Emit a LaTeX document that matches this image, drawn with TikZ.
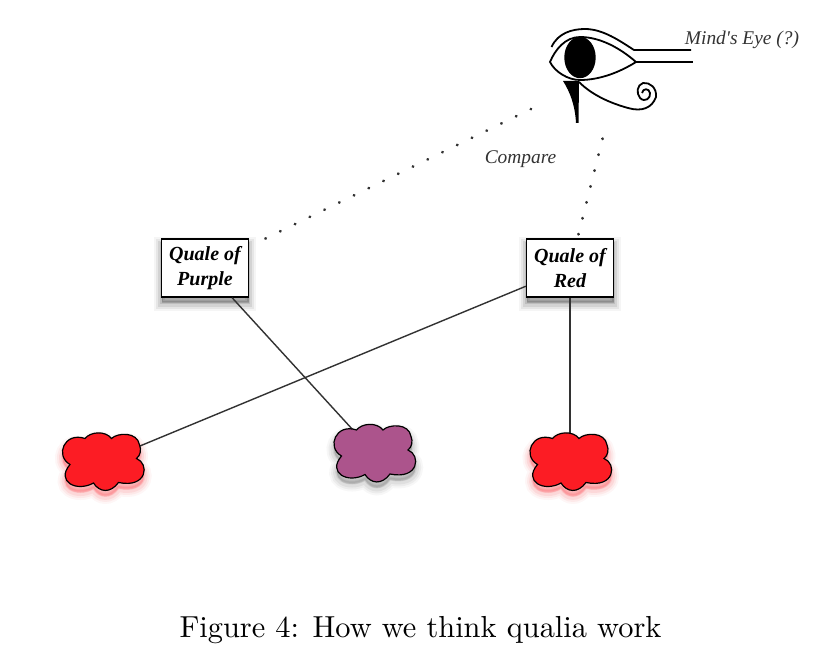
\documentclass[tikz,border=0pt]{standalone}
\usepackage{fontspec}
\newfontfamily\figfont{Liberation Serif}
\definecolor{qualered}{RGB}{252,28,36}
\definecolor{qualepurple}{RGB}{172,84,140}
\definecolor{linegray}{RGB}{50,50,50}
\usetikzlibrary{positioning}
\newcommand{\cloudoutline}{(-17.5,-23) .. controls (-12,-30) and (3,-31) .. (9,-23)
  .. controls (15,-29) and (35,-30) .. (37,-16.5) .. controls (39,-12) and (38,-6) .. (34,-3)
  .. controls (47,2) and (45,27) .. (16,21) .. controls (8,32) and (-3,31) .. (-9,21.5)
  .. controls (-26,31) and (-47,20) .. (-32.5,3) .. controls (-48,-6) and (-38,-30) .. (-17.5,-23) -- cycle}
\begin{document}
\begin{tikzpicture}[x=1pt,y=-1pt,
  softshadow/.style={
    preaction={draw=#1,fill=#1,opacity=.04,line width=15pt,transform canvas={yshift=-6pt}},
    preaction={draw=#1,fill=#1,opacity=.06,line width=11pt,transform canvas={yshift=-6pt}},
    preaction={draw=#1,fill=#1,opacity=.08,line width=7pt,transform canvas={yshift=-6pt}},
    preaction={draw=#1,fill=#1,opacity=.10,line width=3pt,transform canvas={yshift=-5pt}}},
  quale/.style={softshadow=black,draw=black,fill=white,line width=1.5pt,minimum width=87pt,minimum height=58pt,inner sep=0pt,align=center,font=\figfont\bfseries\itshape\fontsize{20}{25}\selectfont},
  cloudspot/.style={inner sep=0pt,minimum size=1pt},
  qualecloud/.pic={\path[softshadow=#1] \cloudoutline;},
  cloudskin/.pic={\filldraw[draw=black,line width=1.2pt,fill=#1] \cloudoutline;},
  link/.style={draw=linegray,line width=1.4pt},
  dotlink/.style={draw=linegray,line width=2.8pt,line cap=round,dash pattern=on 0.4pt off 16pt},
  tag/.style={font=\figfont\itshape\fontsize{19.4}{22}\selectfont,text=black!80},
  eyeline/.style={draw=black,line width=1.8pt}
]
\useasboundingbox (0,0) rectangle (822,663);
\fill[white] (0,0) rectangle (822,663);

\node[cloudspot] (leftcloud) at (102.5,461.5) {};
\node[cloudspot] (midcloud) at (374,453) {};
\node[cloudspot] (rightcloud) at (570,461.5) {};
\pic at (leftcloud) {qualecloud=qualered};
\pic at (midcloud) {qualecloud=black!70};
\pic at (rightcloud) {qualecloud=qualered};

\node[quale] (purplebox) at (205,268) {Quale of\\Purple};
\node[quale] (redbox) at (570,268) {Quale of\\Red};

\draw[link] (redbox) -- (leftcloud);
\draw[link] (purplebox) -- (midcloud);
\draw[link] (redbox) -- (rightcloud);

\pic at (leftcloud) {cloudskin=qualered};
\pic at (midcloud) {cloudskin=qualepurple};
\pic at (rightcloud) {cloudskin=qualered};

% the eye
\draw[eyeline] (551.5,47) .. controls (558,33) and (572,29) .. (585,29) .. controls (603,29) and (620,41) .. (634,50) -- (691,50);
\draw[eyeline] (634,62) -- (693,62);
\draw[eyeline] (636,62) .. controls (620,48) and (600,37) .. (580,37) .. controls (565,37) and (555,50) .. (550,62) .. controls (555,72) and (568,80) .. (580,80) .. controls (600,80) and (620,72) .. (636,62);
\fill[black] (580,57.5) ellipse (15.7 and 20.7);
\fill[black] (563,81) -- (579,81) -- (578.5,123) -- (576,123) .. controls (575,105) and (570,92) .. (563,81) -- cycle;
\draw[eyeline] (579,82) .. controls (592,95) and (610,103) .. (628,108) .. controls (642,112) and (652,108) .. (656,97) .. controls (657,88) and (650,82) .. (643,83) .. controls (637,85) and (636,93) .. (640,98) .. controls (645,103) and (651,98) .. (650,93) .. controls (649,88) and (643,88) .. (642,93);
\coordinate (eyeleft) at (531,109);
\coordinate (eyeright) at (603,137);

\draw[dotlink,shorten <=18pt] (purplebox) -- (eyeleft);
\draw[dotlink,shorten <=4pt] (redbox) -- (eyeright);

\node[tag] (eyelabel) at (742,40) {Mind's Eye (?)};
\node[tag] (comparelabel) at (520.5,159) {Compare};
\node[scale=3.04,transform shape] (caption) at (420.5,630) {Figure 4: How we think qualia work};
\end{tikzpicture}
\end{document}
